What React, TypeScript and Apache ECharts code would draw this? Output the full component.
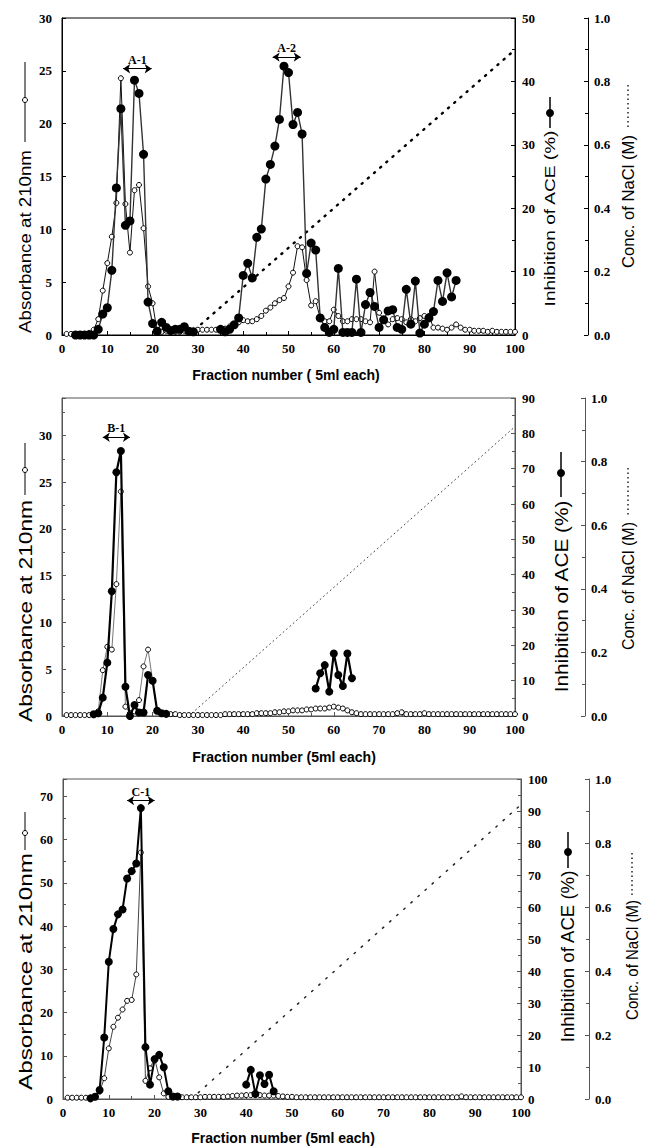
import React, { useEffect, useRef } from "react";
import * as echarts from "echarts";

// ---------- data ----------
const fractions = Array.from({ length: 100 }, (_, i) => i + 1);

// Panel A (top)
const absorbanceA = [
  0.1, 0.1, 0.1, 0.1, 0.1, 0.2, 0.5, 1.5, 4.2, 6.8,
  9.3, 12.5, 24.3, 12.4, 7.8, 13.7, 14.2, 10.1, 4.6, 3.0,
  0.3, 0.3, 0.4, 0.4, 0.3, 0.3, 0.4, 0.3, 0.4, 0.5,
  0.5, 0.5, 0.5, 0.5, 0.6, 0.6, 0.8, 1.0, 1.2, 1.4,
  1.3, 1.3, 1.5, 1.8, 2.3, 2.6, 3.0, 3.3, 3.5, 4.6,
  5.9, 8.4, 8.3, 5.2, 2.8, 3.2, 1.6, 1.3, 1.3, 2.4,
  1.8, 1.3, 1.3, 1.5, 1.5, 1.5, 1.3, 1.2, 6.0, 2.1,
  1.5, 1.0, 1.5, 1.6, 1.5, 1.2, 1.5, 1.3, 1.6, 1.8,
  1.8, 0.7, 0.7, 0.6, 0.5, 0.7, 1.0, 0.7, 0.5, 0.5,
  0.4, 0.4, 0.4, 0.3, 0.4, 0.3, 0.3, 0.3, 0.3, 0.3,
];
const aceFractionsA = [
  3, 4, 5, 6, 7, 8, 9, 10, 11, 12, 13, 14, 15, 16, 17, 18, 19, 20, 21, 22, 23, 24, 25, 26, 27, 28, 29,
  35, 36, 37, 38, 39, 40, 41, 42, 43, 44, 45, 46, 47, 48, 49, 50, 51, 52, 53, 54, 55, 56, 57, 58, 59,
  60, 61, 62, 63, 64, 65, 66, 67, 68, 69, 70, 71, 72, 73, 74, 75, 76, 77, 78, 79, 80, 81, 82, 83, 84,
  85, 86, 87,
];
const aceValuesA = [
  0, 0, 0, 0, 0, 0.9, 3.3, 4.3, 10.2, 23.2, 35.7, 17.3, 18.0, 40.2, 38.1, 28.5, 5.2, 1.8, 0.6, 2.0,
  1.2, 0.7, 0.9, 0.9, 1.3, 0.6, 0.5,
  0.9, 0.5, 0.9, 1.6, 2.7, 9.4, 11.3, 9.0, 15.4, 16.7, 24.6, 26.9, 29.8, 34.0, 42.4, 41.4, 33.2, 35.1,
  31.7, 9.7, 14.5, 13.4, 2.7, 1.2, 0.4, 0.9, 10.5, 0.4, 0.4, 0.4, 8.8, 0.4, 4.8, 6.7, 4.5, 1.2, 2.4,
  3.8, 4.0, 1.2, 0.9, 7.2, 1.7, 8.5, 0.3, 1.7, 2.7, 3.7, 8.6, 5.3, 9.8, 6.0, 8.6,
];

// Panel B (middle)
const absorbanceB = [
  0.1, 0.1, 0.1, 0.1, 0.1, 0.1, 0.2, 0.5, 4.9, 7.4,
  7.1, 14.1, 24.0, 1.0, 0.3, 0.5, 1.7, 5.3, 7.1, 3.8,
  0.5, 0.3, 0.2, 0.2, 0.2, 0.1, 0.1, 0.1, 0.1, 0.1,
  0.1, 0.1, 0.1, 0.1, 0.1, 0.2, 0.2, 0.2, 0.2, 0.2,
  0.2, 0.2, 0.3, 0.3, 0.3, 0.3, 0.4, 0.4, 0.5, 0.5,
  0.6, 0.6, 0.6, 0.7, 0.7, 0.8, 0.8, 0.8, 0.9, 1.0,
  0.9, 0.8, 0.6, 0.4, 0.3, 0.2, 0.2, 0.2, 0.2, 0.2,
  0.2, 0.2, 0.2, 0.3, 0.4, 0.2, 0.2, 0.2, 0.2, 0.3,
  0.2, 0.2, 0.2, 0.2, 0.2, 0.2, 0.2, 0.2, 0.2, 0.2,
  0.2, 0.2, 0.2, 0.2, 0.2, 0.2, 0.2, 0.2, 0.2, 0.2,
];
const aceFractionsB = [7, 8, 9, 10, 11, 12, 13, 14, 15, 16, 17, 18, 19, 20, 21, 22, 23, 56, 57, 58, 59, 60, 61, 62, 63, 64];
const aceValuesB = [
  0.5, 0.8, 5.2, 15.1, 35.3, 69.0, 75.0, 8.3, 0, 3.1, 1.0, 1.0, 11.6, 10.0, 1.5, 0.8, 0.6,
  7.8, 12.1, 14.4, 6.9, 17.7, 11.6, 8.5, 17.7, 10.7,
];

// Panel C (bottom)
const absorbanceC = [
  0.3, 0.3, 0.3, 0.3, 0.3, 0.3, 0.5, 1.7, 4.8, 11.7,
  16.7, 18.8, 20.7, 22.7, 22.9, 28.8, 57.0, 4.2, 7.1, 9.4,
  5.0, 1.3, 0.5, 0.4, 0.4, 0.4, 0.4, 0.4, 0.4, 0.4,
  0.5, 0.5, 0.5, 0.5, 0.5, 0.6, 0.7, 0.8, 0.8, 0.9,
  0.9, 0.9, 0.9, 0.8, 0.8, 0.8, 0.7, 0.6, 0.5, 0.5,
  0.4, 0.4, 0.4, 0.4, 0.4, 0.4, 0.4, 0.4, 0.4, 0.4,
  0.4, 0.4, 0.4, 0.4, 0.4, 0.4, 0.4, 0.4, 0.4, 0.4,
  0.4, 0.4, 0.4, 0.4, 0.4, 0.4, 0.4, 0.4, 0.4, 0.4,
  0.4, 0.4, 0.4, 0.4, 0.4, 0.4, 0.6, 0.4, 0.4, 0.4,
  0.4, 0.4, 0.4, 0.4, 0.4, 0.4, 0.4, 0.4, 0.4, 0.4,
];
const aceFractionsC = [6, 7, 8, 9, 10, 11, 12, 13, 14, 15, 16, 17, 18, 19, 20, 21, 22, 23, 24, 25, 40, 41, 42, 43, 44, 45, 46];
const aceValuesC = [
  0.2, 0.7, 2.8, 19.2, 42.9, 53.1, 57.7, 59.2, 68.9, 71.2, 73.6, 90.9, 16.2, 4.5, 12.4, 13.8, 9.9, 2.4, 0.8, 0.8,
  4.5, 9.1, 1.6, 7.4, 4.7, 7.6, 2.4,
];

// NaCl gradient (start / end of the linear gradient)
const naclFractions = [28, 100];
const naclConcA = [0, 0.9];
const naclConcB = [0, 0.91];
const naclConcC = [0, 0.92];

// peak-pool annotations (left-axis units)
const annotations = [
  { panel: 0, name: "A-1", from: 13.5, to: 19.8, level: 25.2 },
  { panel: 0, name: "A-2", from: 46.5, to: 52.7, level: 26.3 },
  { panel: 1, name: "B-1", from: 9.0, to: 15.0, level: 29.8 },
  { panel: 2, name: "C-1", from: 14.0, to: 20.0, level: 69.0 },
];

const xTitles = ["Fraction number ( 5ml each)", "Fraction number (5ml each)", "Fraction number (5ml each)"];
const absTitle = "Absorbance at 210nm";
const aceTitle = "Inhibition of ACE (%)";
const naclTitle = "Conc. of NaCl (M)";

// ---------- styling / layout ----------
const SERIF = '"Liberation Serif", "Times New Roman", serif';
const SANS = '"Liberation Sans", Arial, Helvetica, sans-serif';

const panels = [
  {
    grid: { left: 62, top: 18, width: 453, height: 317 },
    axisColor: "#000",
    absMax: 30, absInterval: 5, absMinor: false,
    aceMax: 50, naclOffset: 73,
    abs: absorbanceA, aceF: aceFractionsA, aceV: aceValuesA, nacl: naclConcA,
    absLine: { color: "#111", width: 1 },
    aceLine: { color: "#333", width: 1.4 },
    openSize: 5, aceSize: 9,
    naclLine: { color: "#000", width: 2.4, type: [1.2, 7] },
    xTitle: { cx: 286, cy: 375 },
    titles: {
      abs: { cx: 25, y0: 150, y1: 333, size: 16, g0: 62, g1: 142, gc: 100 },
      ace: { cx: 550, y0: 130, y1: 307, size: 14, g0: 97, g1: 128, gc: 113 },
      nacl: { cx: 628, y0: 135, y1: 268, size: 16, g0: 85, g1: 127 },
    },
  },
  {
    grid: { left: 62, top: 398, width: 453, height: 318 },
    axisColor: "#555",
    absMax: 34, absInterval: 5, absMinor: true,
    aceMax: 90, naclOffset: 70,
    abs: absorbanceB, aceF: aceFractionsB, aceV: aceValuesB, nacl: naclConcB,
    absLine: { color: "#777", width: 1 },
    aceLine: { color: "#000", width: 2.2 },
    openSize: 5, aceSize: 8,
    naclLine: { color: "#444", width: 1, type: [1, 3.5] },
    xTitle: { cx: 284, cy: 757 },
    titles: {
      abs: { cx: 25, y0: 500, y1: 722, size: 19, g0: 443, g1: 495, gc: 470 },
      ace: { cx: 561, y0: 500, y1: 693, size: 19, g0: 452, g1: 497, gc: 473 },
      nacl: { cx: 628, y0: 522, y1: 650, size: 17, g0: 468, g1: 515 },
    },
  },
  {
    grid: { left: 63, top: 779, width: 458, height: 320 },
    axisColor: "#555",
    absMax: 74, absInterval: 10, absMinor: true,
    aceMax: 100, naclOffset: 68,
    abs: absorbanceC, aceF: aceFractionsC, aceV: aceValuesC, nacl: naclConcC,
    absLine: { color: "#444", width: 1 },
    aceLine: { color: "#000", width: 2 },
    openSize: 5, aceSize: 8,
    naclLine: { color: "#222", width: 1.5, type: [1.5, 8] },
    xTitle: { cx: 283, cy: 1138 },
    titles: {
      abs: { cx: 25, y0: 853, y1: 1090, size: 19, g0: 812, g1: 850, gc: 833 },
      ace: { cx: 568, y0: 870, y1: 1043, size: 18, g0: 832, g1: 868, gc: 852 },
      nacl: { cx: 632, y0: 900, y1: 1020, size: 17, g0: 853, g1: 897 },
    },
  },
];

function pairsWithBreaks(fr: number[], vals: number[]) {
  const out: any[] = [];
  for (let i = 0; i < fr.length; i++) {
    if (i > 0 && fr[i] - fr[i - 1] > 2) out.push([(fr[i] + fr[i - 1]) / 2, "-"]);
    out.push([fr[i], vals[i]]);
  }
  return out;
}

const tickLabel = { color: "#000", fontFamily: SERIF, fontWeight: "bold" as const, fontSize: 13 };

export default function App() {
  const ref = useRef<HTMLDivElement>(null);

  useEffect(() => {
    document.body.style.margin = "0";
    const el = ref.current!;
    const chart = echarts.init(el, null, { renderer: "svg", width: 648, height: 1148 });
    const mctx = document.createElement("canvas").getContext("2d")!;

    const vText = (text: string, cx: number, y0: number, y1: number, size: number) => {
      const font = `normal ${size}px ${SANS}`;
      mctx.font = font;
      const w = mctx.measureText(text).width || 1;
      return {
        type: "text",
        x: cx,
        y: (y0 + y1) / 2,
        rotation: Math.PI / 2,
        scaleX: (y1 - y0) / w,
        silent: true,
        style: {
          text, font, fill: "#000",
          textAlign: "center", textVerticalAlign: "middle",
          align: "center", verticalAlign: "middle",
        },
      };
    };

    const graphic: any[] = [];
    panels.forEach((p, i) => {
      const t = p.titles;
      // x title
      graphic.push({
        type: "text", x: p.xTitle.cx, y: p.xTitle.cy, silent: true,
        style: {
          text: xTitles[i], font: `bold 14px ${SANS}`, fill: "#000",
          textAlign: "center", textVerticalAlign: "middle", align: "center", verticalAlign: "middle",
        },
      });
      // absorbance title + open-circle glyph
      graphic.push(vText(absTitle, t.abs.cx, t.abs.y0, t.abs.y1, t.abs.size));
      graphic.push({ type: "line", silent: true, shape: { x1: t.abs.cx, y1: t.abs.g0, x2: t.abs.cx, y2: t.abs.g1 }, style: { stroke: "#000", lineWidth: 1 } });
      graphic.push({ type: "circle", silent: true, shape: { cx: t.abs.cx, cy: t.abs.gc, r: 2.5 }, style: { fill: "#fff", stroke: "#000", lineWidth: 1 } });
      // ACE title + filled glyph
      graphic.push(vText(aceTitle, t.ace.cx, t.ace.y0, t.ace.y1, t.ace.size));
      graphic.push({ type: "line", silent: true, shape: { x1: t.ace.cx, y1: t.ace.g0, x2: t.ace.cx, y2: t.ace.g1 }, style: { stroke: "#000", lineWidth: 1.5 } });
      graphic.push({ type: "circle", silent: true, shape: { cx: t.ace.cx, cy: t.ace.gc, r: 4 }, style: { fill: "#000", stroke: "#000", lineWidth: 0 } });
      // NaCl title + dotted glyph
      graphic.push(vText(naclTitle, t.nacl.cx, t.nacl.y0, t.nacl.y1, t.nacl.size));
      graphic.push({ type: "line", silent: true, shape: { x1: t.nacl.cx, y1: t.nacl.g0, x2: t.nacl.cx, y2: t.nacl.g1 }, style: { stroke: "#222", lineWidth: 1.5, lineDash: [1.5, 3] } });
    });

    const grid = panels.map((p) => ({
      ...p.grid, show: true, borderColor: p.axisColor, borderWidth: 1, backgroundColor: "transparent",
    }));

    const xAxis = panels.map((p, i) => ({
      type: "value", gridIndex: i, min: 0, max: 100, interval: 10,
      axisLine: { show: true, onZero: false, lineStyle: { color: p.axisColor, width: 1 } },
      axisTick: { show: true, inside: true, length: 4, lineStyle: { color: p.axisColor } },
      minorTick: { show: true, splitNumber: 2, length: 3, lineStyle: { color: p.axisColor } },
      axisLabel: { ...tickLabel, margin: 7 },
      splitLine: { show: false },
      minorSplitLine: { show: false },
    }));

    const yAxis: any[] = [];
    panels.forEach((p, i) => {
      yAxis.push({
        type: "value", gridIndex: i, position: "left", min: 0, max: p.absMax, interval: p.absInterval,
        axisLine: { show: true, onZero: false, lineStyle: { color: p.axisColor } },
        axisTick: { show: true, inside: true, length: 4, lineStyle: { color: p.axisColor } },
        minorTick: { show: p.absMinor, splitNumber: 2, length: 3, lineStyle: { color: p.axisColor } },
        axisLabel: {
          ...tickLabel, margin: 10,
          formatter: (v: number) => (Math.abs(v % p.absInterval) < 1e-9 ? String(v) : ""),
        },
        splitLine: { show: false },
      });
      yAxis.push({
        type: "value", gridIndex: i, position: "right", min: 0, max: p.aceMax, interval: 10,
        axisLine: { show: true, onZero: false, lineStyle: { color: p.axisColor } },
        axisTick: { show: true, inside: true, length: 4, lineStyle: { color: p.axisColor } },
        minorTick: { show: true, splitNumber: 2, length: 3, lineStyle: { color: p.axisColor } },
        axisLabel: { ...tickLabel, margin: 7 },
        splitLine: { show: false },
      });
      yAxis.push({
        type: "value", gridIndex: i, position: "right", offset: p.naclOffset, min: 0, max: 1, interval: 0.2,
        axisLine: { show: true, onZero: false, lineStyle: { color: p.axisColor } },
        axisTick: { show: true, inside: true, length: 4, lineStyle: { color: p.axisColor } },
        minorTick: { show: true, splitNumber: 2, length: 3, lineStyle: { color: p.axisColor } },
        axisLabel: { ...tickLabel, margin: 6, formatter: (v: number) => v.toFixed(1) },
        splitLine: { show: false },
      });
    });

    const series: any[] = [];
    panels.forEach((p, i) => {
      series.push({
        type: "line", xAxisIndex: i, yAxisIndex: 3 * i + 2, silent: true, z: 1,
        data: naclFractions.map((f, k) => [f, p.nacl[k]]),
        symbol: "none", showSymbol: false,
        lineStyle: { color: p.naclLine.color, width: p.naclLine.width, type: p.naclLine.type, cap: "round" },
        emphasis: { disabled: true },
      });
      const anns = annotations.filter((a) => a.panel === i);
      series.push({
        type: "line", xAxisIndex: i, yAxisIndex: 3 * i, silent: true, z: 2,
        data: fractions.map((f, k) => [f, p.abs[k]]),
        symbol: "circle", symbolSize: p.openSize, showSymbol: true, showAllSymbol: true,
        itemStyle: { color: "#fff", borderColor: "#000", borderWidth: 1 },
        lineStyle: { color: p.absLine.color, width: p.absLine.width },
        emphasis: { disabled: true },
        markLine: {
          silent: true, symbol: ["arrow", "arrow"], symbolSize: 7,
          lineStyle: { color: "#000", width: 1, type: "solid" },
          label: {
            show: true, position: "insideMiddleTop", formatter: "{b}", distance: 3,
            color: "#000", fontFamily: SERIF, fontWeight: "bold", fontSize: 12,
          },
          emphasis: { disabled: true },
          data: anns.map((a) => [
            { name: a.name, coord: [a.from, a.level] },
            { coord: [a.to, a.level] },
          ]),
        },
      });
      series.push({
        type: "line", xAxisIndex: i, yAxisIndex: 3 * i + 1, silent: true, z: 3,
        data: pairsWithBreaks(p.aceF, p.aceV),
        symbol: "circle", symbolSize: p.aceSize, showSymbol: true, showAllSymbol: true,
        itemStyle: { color: "#000", borderColor: "#000", borderWidth: 0 },
        lineStyle: { color: p.aceLine.color, width: p.aceLine.width },
        emphasis: { disabled: true },
      });
    });

    chart.setOption({
      animation: false,
      backgroundColor: "#fff",
      grid, xAxis, yAxis, series, graphic,
    });

    return () => chart.dispose();
  }, []);

  return (
    <div
      ref={ref}
      style={{ position: "absolute", left: 0, top: 0, width: 648, height: 1148, background: "#fff" }}
    />
  );
}
